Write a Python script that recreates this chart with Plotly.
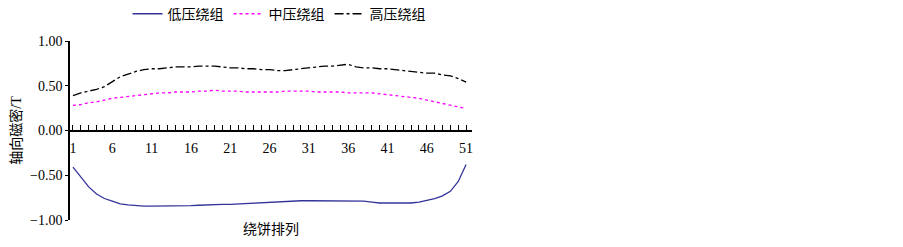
import plotly.graph_objects as go

categories = list(range(1, 52))
tick_vals = [1, 6, 11, 16, 21, 26, 31, 36, 41, 46, 51]
tick_text = [str(v) for v in tick_vals]
y_ticks = [1.0, 0.5, 0.0, -0.5, -1.0]
y_tick_text = ["1.00", "0.50", "0.00", "\u22120.50", "\u22121.00"]

lv = [-0.41, -0.52, -0.63, -0.71, -0.76, -0.79, -0.82, -0.83, -0.84, -0.845,
      -0.845, -0.845, -0.845, -0.84, -0.84, -0.84, -0.835, -0.83, -0.83, -0.825,
      -0.825, -0.82, -0.82, -0.815, -0.81, -0.80, -0.795, -0.79, -0.785, -0.785,
      -0.785, -0.785, -0.785, -0.785, -0.785, -0.785, -0.785, -0.79, -0.80, -0.81,
      -0.81, -0.81, -0.81, -0.81, -0.80, -0.78, -0.76, -0.73, -0.68, -0.57, -0.38]
mv = [0.28, 0.29, 0.31, 0.32, 0.34, 0.36, 0.37, 0.38, 0.39, 0.40,
      0.41, 0.42, 0.42, 0.43, 0.43, 0.43, 0.44, 0.44, 0.45, 0.44,
      0.44, 0.44, 0.43, 0.43, 0.43, 0.43, 0.43, 0.44, 0.44, 0.44,
      0.44, 0.43, 0.43, 0.43, 0.43, 0.42, 0.42, 0.42, 0.42, 0.41,
      0.40, 0.39, 0.38, 0.37, 0.36, 0.34, 0.32, 0.30, 0.28, 0.26, 0.245]
hv = [0.39, 0.42, 0.44, 0.46, 0.49, 0.55, 0.60, 0.63, 0.66, 0.68,
      0.69, 0.69, 0.70, 0.71, 0.71, 0.71, 0.72, 0.72, 0.72, 0.71,
      0.70, 0.70, 0.69, 0.69, 0.68, 0.68, 0.67, 0.67, 0.68, 0.69,
      0.70, 0.71, 0.72, 0.72, 0.73, 0.74, 0.71, 0.70, 0.70, 0.69,
      0.69, 0.68, 0.67, 0.66, 0.65, 0.64, 0.64, 0.62, 0.61, 0.58, 0.54]

series_names = ["低压绕组", "中压绕组", "高压绕组"]

FONT = "Liberation Serif, Noto Sans CJK SC, serif"

fig = go.Figure()
fig.add_trace(go.Scatter(x=categories, y=lv, mode="lines", name=series_names[0],
                         line=dict(color="#33339a", width=1.3)))
fig.add_trace(go.Scatter(x=categories, y=mv, mode="lines", name=series_names[1],
                         line=dict(color="#ff00ff", width=1.3, dash="dot")))
fig.add_trace(go.Scatter(x=categories, y=hv, mode="lines", name=series_names[2],
                         line=dict(color="#000000", width=1.3, dash="dashdot")))

fig.update_layout(
    width=895, height=239,
    margin=dict(l=62, r=431, t=33, b=27, autoexpand=False),
    paper_bgcolor="white", plot_bgcolor="white",
    font=dict(family=FONT, size=14, color="#000000"),
    showlegend=True,
    legend=dict(orientation="h", x=0.52, xanchor="center", y=1.15, yanchor="middle",
                yref="paper", font=dict(size=14, family=FONT),
                tracegroupgap=0, bgcolor="rgba(0,0,0,0)"),
    xaxis=dict(
        range=[0.62, 51.75], anchor="free", position=0.5, automargin=False,
        tickmode="array", tickvals=tick_vals, ticktext=tick_text,
        ticks="inside", ticklen=5, tickwidth=1, tickcolor="#000",
        ticklabelstandoff=5,
        showline=True, linecolor="#000", linewidth=1.5,
        showgrid=False, zeroline=False,
        tickfont=dict(size=14, family=FONT),
        minor=dict(ticks="inside", dtick=1, tick0=1, ticklen=5, tickcolor="#000", showgrid=False),
    ),
    yaxis=dict(
        range=[-1.0, 1.0], tickmode="array", tickvals=y_ticks, ticktext=y_tick_text,
        automargin=False,
        ticks="outside", ticklen=3, tickcolor="#000",
        showline=True, linecolor="#000", linewidth=1.5,
        showgrid=False, zeroline=False,
        tickfont=dict(size=14, family=FONT),
        title=dict(text="轴向磁密/T", font=dict(size=14, family=FONT), standoff=6),
    ),
)
fig.add_annotation(text="绕饼排列", xref="paper", yref="paper", x=0.5, y=0,
                   xanchor="center", yanchor="top", yshift=0, showarrow=False,
                   font=dict(size=14, family=FONT))

fig.write_html("out.html")
